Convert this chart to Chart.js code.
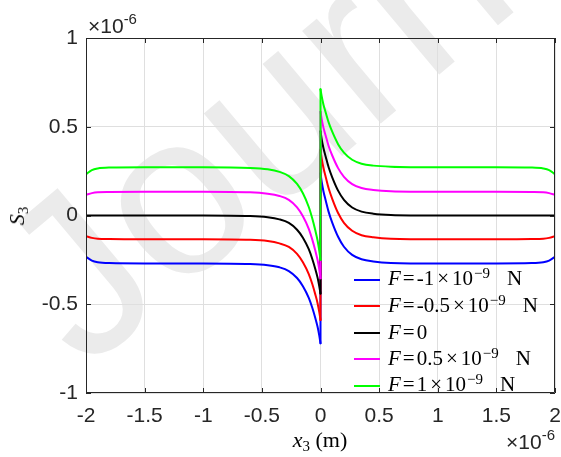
<!DOCTYPE html>
<html>
<head>
<meta charset="utf-8">
<script src="https://cdn.jsdelivr.net/npm/chart.js@4.4.0/dist/chart.umd.min.js"></script>
<style>
  html, body { margin: 0; padding: 0; background: #fff; }
  #wrap { position: relative; width: 561px; height: 457px; overflow: hidden; }
  #chart { position: absolute; left: 0; top: 0; z-index: 1; }
  .txt { position: absolute; z-index: 2; color: #262626; white-space: nowrap; }
  .sans { font-family: 'Liberation Sans', Arial, sans-serif; font-size: 21px; line-height: 21px; }
  .serif { font-family: 'Liberation Serif', 'Times New Roman', serif; font-size: 21px; line-height: 21px; color: #000; }
  .sup { position: relative; font-size: 15px; top: -9px; }
  .lsup { position: relative; font-size: 15px; top: -7px; margin-left: 1px; }
  .sub { position: relative; font-size: 15px; top: 4px; }
  .rel { margin: 0 2px; }
  .bin { margin: 0 3px; }
  #watermark { position: absolute; left: 85px; top: 373px; z-index: 0; transform-origin: 0 0; transform: rotate(-40deg); }
  #watermark span { position: absolute; left: 0; top: -195px; font-family: 'Liberation Sans', Arial, sans-serif;
                    font-size: 230px; line-height: 230px; color: #ebebeb; white-space: nowrap; }
  .row { position: absolute; left: 354px; height: 24px; display: flex; align-items: center; z-index: 2; }
  .swatch { width: 26px; height: 2px; margin-right: 8px; }
</style>
</head>
<body>
<div id="wrap">
  <div id="watermark"><span>Journal Pre-proof</span></div>
  <canvas id="chart" width="561" height="457"></canvas>
  <div class="txt sans" style="left:88px; top:15px;">×10<span class="sup">-6</span></div>
  <div class="txt sans" style="right:6px; top:431px;">×10<span class="sup">-6</span></div>
  <div class="txt serif" style="left:320px; top:429px; transform:translateX(-50%); font-size:22px;"><i>x</i><span class="sub">3</span> (m)</div>
  <div class="txt serif" style="left:18px; top:216px; transform:translate(-50%,-50%) rotate(-90deg); font-size:22px;"><i>S</i><span class="sub">3</span></div>
  <div id="legend"></div>
</div>
<script>
// x in units of 1e-6 m, S3 in units of 1e-6 (axis multipliers shown as x10^-6)
const xLeft = [-2, -1.95, -1.9, -1.8, -1.5, -1, -0.6, -0.45, -0.35, -0.27, -0.2, -0.15, -0.1, -0.07, -0.045, -0.025, -0.01, 0];
const xRight = [0, 0.01, 0.025, 0.045, 0.07, 0.1, 0.15, 0.2, 0.27, 0.35, 0.45, 0.6, 1, 1.5, 1.8, 1.9, 1.95, 2];

const xTicks = [-2, -1.5, -1, -0.5, 0, 0.5, 1, 1.5, 2];
const yTicks = [-1, -0.5, 0, 0.5, 1];

// F = -1, -0.5, 0, 0.5, 1 (x10^-9 N)
const forceCoeffs = ['-1', '-0.5', '0', '0.5', '1'];
const lineColors = ['#0000ff', '#ff0000', '#000000', '#ff00ff', '#00ff00'];

const s3Fm1Left = [-0.233, -0.254, -0.263, -0.268, -0.27, -0.27, -0.273, -0.28, -0.292, -0.313, -0.352, -0.398, -0.464, -0.52, -0.576, -0.627, -0.678, -0.72];
const s3Fm1Right = [0.238, 0.19, 0.137, 0.083, 0.019, -0.04, -0.12, -0.176, -0.222, -0.2465, -0.259, -0.267, -0.27, -0.27, -0.268, -0.263, -0.254, -0.233];

const s3Fm05Left = [-0.117, -0.126, -0.131, -0.133, -0.134, -0.134, -0.137, -0.144, -0.157, -0.177, -0.216, -0.263, -0.33, -0.386, -0.443, -0.494, -0.546, -0.589];
const s3Fm05Right = [0.369, 0.322, 0.269, 0.216, 0.152, 0.094, 0.014, -0.041, -0.086, -0.111, -0.123, -0.131, -0.134, -0.134, -0.133, -0.131, -0.126, -0.117];

const s3F0Left = [0, 0, 0, 0, 0, 0, -0.003, -0.01, -0.022, -0.042, -0.08, -0.125, -0.19, -0.245, -0.3, -0.35, -0.4, -0.44];
const s3F0Right = [0.475, 0.43, 0.38, 0.33, 0.27, 0.215, 0.14, 0.088, 0.045, 0.022, 0.01, 0.003, 0, 0, 0, 0, 0, 0];

const s3F05Left = [0.117, 0.126, 0.131, 0.133, 0.134, 0.134, 0.131, 0.123, 0.11, 0.088, 0.046, -0.004, -0.075, -0.136, -0.196, -0.251, -0.306, -0.354];
const s3F05Right = [0.585, 0.543, 0.495, 0.448, 0.39, 0.338, 0.267, 0.218, 0.177, 0.155, 0.144, 0.137, 0.134, 0.134, 0.133, 0.131, 0.126, 0.117];

const s3F1Left = [0.233, 0.256, 0.265, 0.27, 0.272, 0.272, 0.268, 0.26, 0.246, 0.222, 0.178, 0.125, 0.048, -0.017, -0.082, -0.141, -0.2, -0.25];
const s3F1Right = [0.711, 0.672, 0.625, 0.579, 0.523, 0.472, 0.402, 0.354, 0.314, 0.292, 0.281, 0.275, 0.272, 0.272, 0.27, 0.265, 0.256, 0.233];

const seriesLeft = [s3Fm1Left, s3Fm05Left, s3F0Left, s3F05Left, s3F1Left];
const seriesRight = [s3Fm1Right, s3Fm05Right, s3F0Right, s3F05Right, s3F1Right];

const axisColor = '#262626';
const gridColor = '#dfdfdf';
const tickFont = { family: "'Liberation Sans', Arial, sans-serif", size: 21 };

// each curve = left branch, jump at x=0, right branch (keeps the spike tips sharp)
const datasets = [];
seriesLeft.forEach((left, i) => {
  const right = seriesRight[i];
  const common = {
    borderColor: lineColors[i],
    borderWidth: 2,
    pointRadius: 0,
    borderCapStyle: 'round',
    borderJoinStyle: 'round',
    fill: false,
    order: 10 - i  // later series drawn on top, like MATLAB
  };
  datasets.push({ ...common, data: xLeft.map((x, k) => ({ x, y: left[k] })), cubicInterpolationMode: 'monotone' });
  datasets.push({ ...common, data: [{ x: 0, y: left[left.length - 1] }, { x: 0, y: right[0] }], tension: 0 });
  datasets.push({ ...common, data: xRight.map((x, k) => ({ x, y: right[k] })), cubicInterpolationMode: 'monotone' });
});

// box with inward ticks on all four sides
const matlabBox = {
  id: 'matlabBox',
  afterDatasetsDraw(chart) {
    const { ctx, chartArea: a, scales: { x, y } } = chart;
    const len = 5;
    ctx.save();
    ctx.strokeStyle = axisColor;
    ctx.lineWidth = 1;
    ctx.beginPath();
    xTicks.forEach(v => {
      const px = Math.round(x.getPixelForValue(v)) + 0.5;
      ctx.moveTo(px, a.bottom); ctx.lineTo(px, a.bottom - len);
      ctx.moveTo(px, a.top); ctx.lineTo(px, a.top + len);
    });
    yTicks.forEach(v => {
      const py = Math.round(y.getPixelForValue(v)) + 0.5;
      ctx.moveTo(a.left, py); ctx.lineTo(a.left + len, py);
      ctx.moveTo(a.right, py); ctx.lineTo(a.right - len, py);
    });
    ctx.rect(Math.round(a.left) + 0.5, Math.round(a.top) + 0.5,
             Math.round(a.right - a.left) - 1, Math.round(a.bottom - a.top) - 1);
    ctx.stroke();
    ctx.restore();
  }
};

new Chart(document.getElementById('chart'), {
  type: 'line',
  data: { datasets },
  options: {
    responsive: false,
    animation: false,
    events: [],
    layout: { padding: { top: 38, right: 6, bottom: 0, left: 0 } },
    plugins: { legend: { display: false }, tooltip: { enabled: false } },
    scales: {
      x: {
        type: 'linear',
        min: -2, max: 2,
        afterBuildTicks: s => { s.ticks = xTicks.map(v => ({ value: v })); },
        afterFit: s => { s.height = 64; s.paddingLeft = 0; s.paddingRight = 0; },
        ticks: {
          autoSkip: false, maxRotation: 0, padding: 11,
          color: axisColor, font: tickFont,
          callback: v => String(v)
        },
        grid: { color: gridColor, lineWidth: 1, drawTicks: false },
        border: { display: false }
      },
      y: {
        type: 'linear',
        min: -1, max: 1,
        afterBuildTicks: s => { s.ticks = yTicks.map(v => ({ value: v })); },
        afterFit: s => { s.width = 86; s.paddingTop = 0; s.paddingBottom = 0; },
        ticks: {
          padding: 8,
          color: axisColor, font: tickFont,
          callback: v => String(v)
        },
        grid: { color: gridColor, lineWidth: 1, drawTicks: false },
        border: { display: false }
      }
    }
  },
  plugins: [matlabBox]
});

// legend: transparent, no box, bottom-right inside the axes
const legend = document.getElementById('legend');
forceCoeffs.forEach((c, i) => {
  const row = document.createElement('div');
  row.className = 'row';
  row.style.top = (279.5 + i * 26.5 - 12) + 'px';
  const sw = document.createElement('div');
  sw.className = 'swatch';
  sw.style.background = lineColors[i];
  const t = document.createElement('div');
  t.className = 'serif';
  t.innerHTML = c === '0'
    ? '<i>F</i><span class="rel">=</span>0'
    : '<i>F</i><span class="rel">=</span>' + c + '<span class="bin">×</span>10<span class="lsup">−9</span><span style="margin-left:17px">N</span>';
  row.appendChild(sw);
  row.appendChild(t);
  legend.appendChild(row);
});
</script>
</body>
</html>
